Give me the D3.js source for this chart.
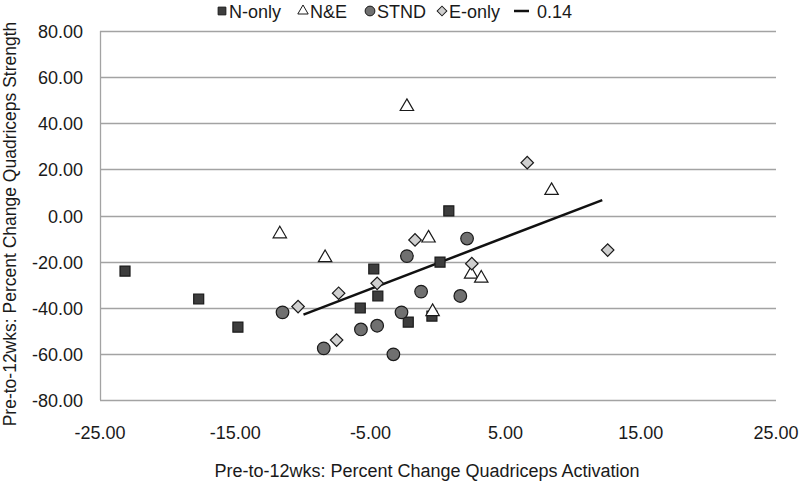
<!DOCTYPE html>
<html>
<head>
<meta charset="utf-8">
<script src="https://cdn.jsdelivr.net/npm/d3@7"></script>
<style>
  body { margin: 0; background: #fff; }
  text { font-family: "Liberation Sans", Arial, sans-serif; fill: #1a1a1a; }
</style>
</head>
<body>
<div id="chart"></div>
<script>
// data: x = % change activation, y = % change strength
var nOnlyX = [-23.15, -17.7, -14.8, 0.8, -4.75, -4.45, -5.75, -2.2, 0.15, -0.45];
var nOnlyY = [-24.1, -36.2, -48.4, 2.0, -23.2, -34.9, -40.1, -46.2, -20.2, -43.6];

var neX = [-2.3, -11.7, -8.35, -0.7, 2.45, 3.2, -0.4, 8.4];
var neY = [47.2, -8.0, -18.3, -9.8, -25.5, -27.2, -41.7, 10.8];

var stndX = [-11.5, -8.45, -2.3, 2.15, -1.25, 1.65, -2.7, -4.5, -5.7, -3.3];
var stndY = [-42.0, -57.6, -17.6, -10.0, -33.0, -34.9, -42.0, -47.8, -49.4, -60.2];

var eOnlyX = [-10.35, -7.35, -7.5, -4.5, -1.7, 2.5, 6.6, 12.55];
var eOnlyY = [-39.5, -33.7, -54.0, -29.4, -10.6, -20.9, 22.9, -15.0];

var trendX = [-9.95, 12.15];
var trendY = [-43.0, 6.7];

var xTicks = [-25, -15, -5, 5, 15, 25];
var yTicks = [-80, -60, -40, -20, 0, 20, 40, 60, 80];

var legendNames = ["N-only", "N&E", "STND", "E-only", "0.14"];

var W = 800, H = 483;
var margin = { top: 31, left: 100, right: 24, bottom: 83 };

var svg = d3.select("#chart").append("svg")
  .attr("width", W)
  .attr("height", H);

var x = d3.scaleLinear().domain([-25, 25]).range([margin.left, W - margin.right]);
var y = d3.scaleLinear().domain([-80, 80]).range([H - margin.bottom, margin.top]);

var fmt = function(d) { return d3.format(".2f")(d).replace("\u2212", "-"); };

// gridlines
svg.selectAll(".grid")
  .data(yTicks)
  .enter().append("line")
  .attr("class", "grid")
  .attr("x1", x(-25))
  .attr("x2", x(25))
  .attr("y1", function(d) { return Math.round(y(d)) + 0.5; })
  .attr("y2", function(d) { return Math.round(y(d)) + 0.5; })
  .attr("stroke", "#a3a3a3")
  .attr("stroke-width", 1.3);

// y axis line
svg.append("line")
  .attr("x1", x(-25) + 0.5).attr("x2", x(-25) + 0.5)
  .attr("y1", y(80)).attr("y2", y(-80))
  .attr("stroke", "#a3a3a3")
  .attr("stroke-width", 1.3);

// tick labels
svg.selectAll(".ylab")
  .data(yTicks)
  .enter().append("text")
  .attr("class", "ylab")
  .attr("x", 83)
  .attr("y", function(d) { return y(d) + 7; })
  .attr("text-anchor", "end")
  .style("font-size", "18px")
  .text(fmt);

svg.selectAll(".xlab")
  .data(xTicks)
  .enter().append("text")
  .attr("class", "xlab")
  .attr("x", function(d) { return x(d); })
  .attr("y", 439)
  .attr("text-anchor", "middle")
  .style("font-size", "18px")
  .text(fmt);

// axis titles
svg.append("text")
  .attr("x", 427)
  .attr("y", 477)
  .attr("text-anchor", "middle")
  .style("font-size", "18px")
  .text("Pre-to-12wks: Percent Change Quadriceps Activation");

svg.append("text")
  .attr("transform", "translate(15.5,224) rotate(-90)")
  .attr("text-anchor", "middle")
  .style("font-size", "17.5px")
  .text("Pre-to-12wks: Percent Change Quadriceps Strength");

// trend line
svg.append("line")
  .attr("x1", x(trendX[0])).attr("y1", y(trendY[0]))
  .attr("x2", x(trendX[1])).attr("y2", y(trendY[1]))
  .attr("stroke", "#111")
  .attr("stroke-width", 2.5);

var styles = [
  { type: d3.symbolSquare, size: 100, fill: "#3d3d3d", rot: 0 },
  { type: d3.symbolTriangle, size: 78, fill: "#fff", rot: 0 },
  { type: d3.symbolCircle, size: 125, fill: "#707070", rot: 0 },
  { type: d3.symbolSquare, size: 78, fill: "#cfcfcf", rot: 45 }
];

function zip(xs, ys) {
  return xs.map(function(v, i) { return { x: v, y: ys[i] }; });
}

var series = [zip(nOnlyX, nOnlyY), zip(neX, neY), zip(stndX, stndY), zip(eOnlyX, eOnlyY)];

series.forEach(function(pts, i) {
  var st = styles[i];
  svg.selectAll(".s" + i)
    .data(pts)
    .enter().append("path")
    .attr("class", "s" + i)
    .attr("d", d3.symbol().type(st.type).size(st.size))
    .attr("transform", function(d) {
      return "translate(" + x(d.x) + "," + y(d.y) + ") rotate(" + st.rot + ")";
    })
    .attr("fill", st.fill)
    .attr("stroke", "#1a1a1a")
    .attr("stroke-width", 1.2);
});

// legend
var legendX = [222, 303, 370, 442, 514];
var lg = svg.selectAll(".leg")
  .data(legendNames)
  .enter().append("g")
  .attr("class", "leg")
  .attr("transform", function(d, i) { return "translate(" + legendX[i] + ",11)"; });

lg.each(function(d, i) {
  var g = d3.select(this);
  if (i < 4) {
    var st = styles[i];
    g.append("path")
      .attr("d", d3.symbol().type(st.type).size(st.size * 0.6))
      .attr("transform", "rotate(" + st.rot + ")")
      .attr("fill", st.fill)
      .attr("stroke", "#1a1a1a")
      .attr("stroke-width", 1);
    g.append("text")
      .attr("x", 7)
      .attr("y", 7)
      .style("font-size", "18px")
      .text(d);
  } else {
    g.append("line")
      .attr("x1", 0).attr("x2", 15)
      .attr("stroke", "#111").attr("stroke-width", 2.5);
    g.append("text")
      .attr("x", 23)
      .attr("y", 7)
      .style("font-size", "18px")
      .text(d);
  }
});
</script>
</body>
</html>
